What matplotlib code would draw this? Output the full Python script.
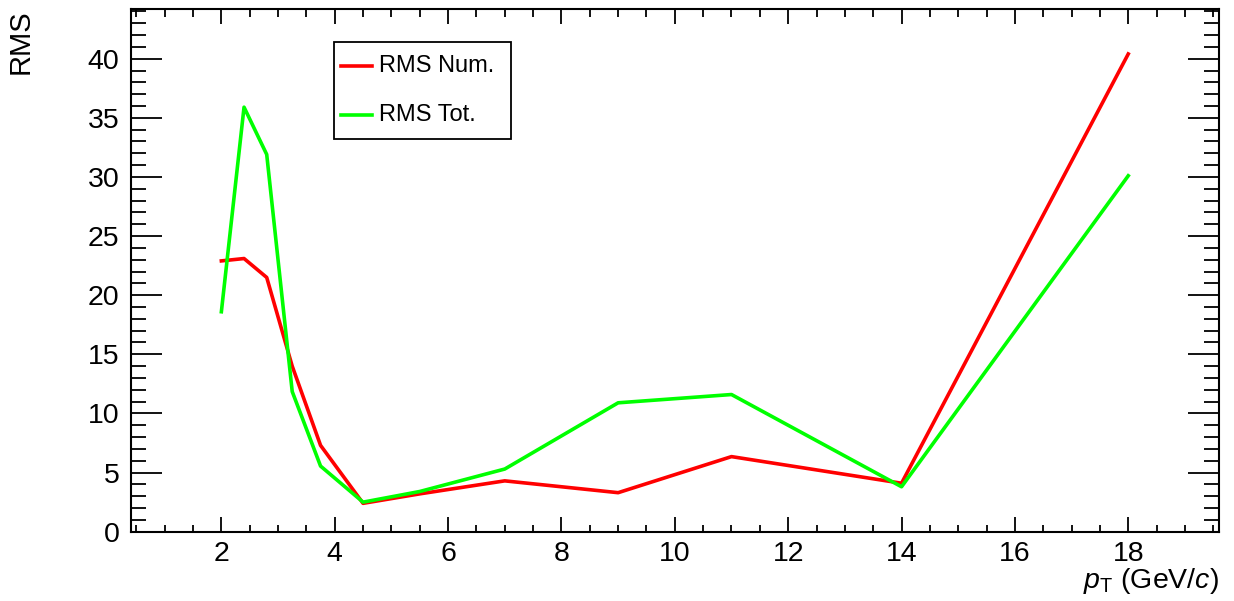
import matplotlib
matplotlib.use('Agg')
from matplotlib import pyplot as plt
from matplotlib.ticker import MultipleLocator
from matplotlib.patches import Rectangle
from matplotlib.lines import Line2D

# pT bin centres (GeV/c) and RMS values
pt = [2.0, 2.4, 2.8, 3.25, 3.75, 4.5, 5.5, 7.0, 9.0, 11.0, 14.0, 18.0]
rms_num = [22.9, 23.1, 21.5, 14.0, 7.3, 2.4, 3.2, 4.3, 3.3, 6.35, 4.1, 40.4]
rms_tot = [18.6, 35.9, 31.9, 11.85, 5.55, 2.5, 3.4, 5.3, 10.9, 11.6, 3.8, 30.1]
labels = ['RMS Num.', 'RMS Tot.']
colors = ['#ff0000', '#00ff00']

plt.rcParams['font.family'] = ['Liberation Sans', 'DejaVu Sans']
plt.rcParams['mathtext.fontset'] = 'custom'
plt.rcParams['mathtext.rm'] = 'Liberation Sans'
plt.rcParams['mathtext.it'] = 'Liberation Sans:italic'

W, H = 1234, 601
fig = plt.figure(figsize=(W / 100, H / 100), dpi=100)
ax = fig.add_axes([0.1059, 0.1153, 0.8819, 0.8697])

ax.plot(pt, rms_num, color=colors[0], lw=2.6)
ax.plot(pt, rms_tot, color=colors[1], lw=2.6)

ax.set_xlim(0.4, 19.6)
ax.set_ylim(0, 44.2)
ax.xaxis.set_major_locator(MultipleLocator(2))
ax.xaxis.set_minor_locator(MultipleLocator(0.5))
ax.yaxis.set_major_locator(MultipleLocator(5))
ax.yaxis.set_minor_locator(MultipleLocator(1))

for s in ax.spines.values():
	s.set_linewidth(1.5)

ax.tick_params(axis='both', which='both', direction='in', top=True, right=True,
	width=1.3, labelsize=20.5)
ax.tick_params(axis='x', which='major', length=10.8, pad=7)
ax.tick_params(axis='x', which='minor', length=5.4)
ax.tick_params(axis='y', which='major', length=22.3, pad=8)
ax.tick_params(axis='y', which='minor', length=11)

ax.set_ylabel('RMS', fontsize=21, loc='top', labelpad=38)
ax.set_xlabel(r'$p_{\mathrm{T}}$ (GeV/$c$)', fontsize=20.5, loc='right', labelpad=-1)

# legend box drawn in figure pixels (ROOT TLegend look)
def fx(px):
	return px / W

def fy(py):
	return 1 - py / H

fig.patches.append(Rectangle((fx(334), fy(139)), fx(511) - fx(334), fy(42) - fy(139),
	transform=fig.transFigure, fill=False, edgecolor='black', lw=1.3))
for i, (lab, col) in enumerate(zip(labels, colors)):
	yy = 66 + 49 * i
	fig.lines.append(Line2D([fx(341), fx(372)], [fy(yy), fy(yy)],
		transform=fig.transFigure, color=col, lw=2.6))
	fig.text(fx(379), fy(yy), lab, fontsize=17, va='center', ha='left')

fig.savefig('out.png', dpi=100)
